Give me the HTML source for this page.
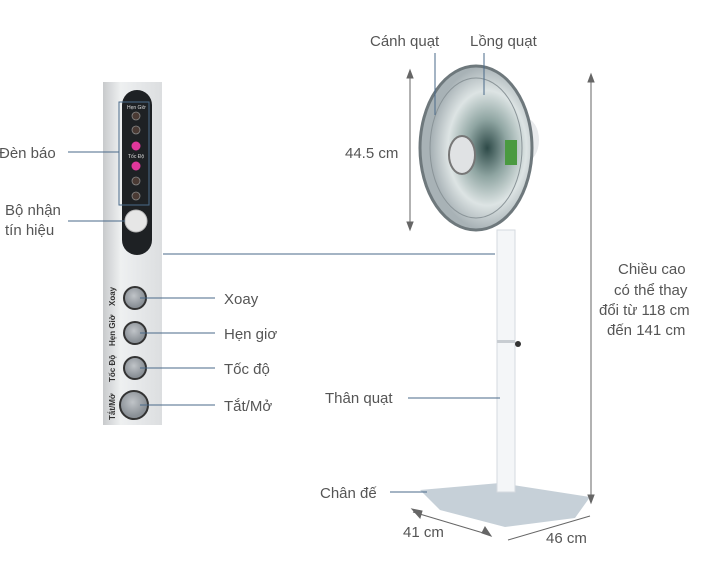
<!DOCTYPE html>
<html><head><meta charset="utf-8"><style>
body{margin:0;background:#fff;width:718px;height:583px;overflow:hidden}
text{font-family:"Liberation Sans",sans-serif;fill:#555;font-size:15px}
text.r{font-size:8px;font-weight:bold;fill:#333}
</style></head><body>
<svg width="718" height="583" viewBox="0 0 718 583" xmlns="http://www.w3.org/2000/svg">
<defs>
<linearGradient id="pg" x1="0" x2="1"><stop offset="0" stop-color="#c8cacc"/><stop offset="0.3" stop-color="#eef0f1"/><stop offset="1" stop-color="#dcdee0"/></linearGradient>
<radialGradient id="bt" cx="0.45" cy="0.4"><stop offset="0" stop-color="#c0c4c8"/><stop offset="1" stop-color="#8a9096"/></radialGradient>
<radialGradient id="fan" cx="0.6" cy="0.5"><stop offset="0" stop-color="#2e4a48"/><stop offset="0.35" stop-color="#8fa5a2"/><stop offset="0.7" stop-color="#dde4e4"/><stop offset="1" stop-color="#a8b2b6"/></radialGradient>
</defs>
<!-- panel -->
<rect x="103" y="82" width="59" height="343" fill="url(#pg)"/>
<rect x="122" y="90" width="30" height="165" rx="15" fill="#1e2124"/>
<rect x="119" y="102" width="30" height="103" fill="none" stroke="#4a6a8a" stroke-width="1"/>
<text x="127" y="109" style="font-size:5px;fill:#ddd">Hẹn Giờ</text>
<circle cx="136" cy="116" r="4" fill="#4a3a34" stroke="#888" stroke-width="0.8"/>
<circle cx="136" cy="130" r="4" fill="#4a3a34" stroke="#888" stroke-width="0.8"/>
<circle cx="136" cy="146" r="4.5" fill="#e0379b"/>
<text x="128" y="158" style="font-size:5px;fill:#ddd">Tốc Độ</text>
<circle cx="136" cy="166" r="4.5" fill="#e0379b"/>
<circle cx="136" cy="181" r="4" fill="#4a3a34" stroke="#888" stroke-width="0.8"/>
<circle cx="136" cy="196" r="4" fill="#4a3a34" stroke="#888" stroke-width="0.8"/>
<circle cx="136" cy="221" r="11" fill="#e6e6e6" stroke="#bbb"/>
<g fill="url(#bt)" stroke="#333" stroke-width="2">
<circle cx="135" cy="298" r="11"/><circle cx="135" cy="333" r="11"/><circle cx="135" cy="368" r="11"/><circle cx="134" cy="405" r="14"/>
</g>
<text class="r" transform="translate(115,306) rotate(-90)">Xoay</text>
<text class="r" transform="translate(115,346) rotate(-90)">Hẹn Giờ</text>
<text class="r" transform="translate(115,382) rotate(-90)">Tốc Độ</text>
<text class="r" transform="translate(115,420) rotate(-90)">Tắt/Mở</text>
<!-- fan -->
<polygon points="420,490 500,483 590,497 575,518 505,527 440,510" fill="#c6d0d8"/>
<rect x="497" y="230" width="18" height="262" fill="#f4f6f8" stroke="#d5dadf"/>
<rect x="497" y="340" width="18" height="3" fill="#c8cdd2"/>
<circle cx="518" cy="344" r="3" fill="#333"/>
<ellipse cx="525" cy="140" rx="14" ry="22" fill="#e8eaec"/>
<ellipse cx="476" cy="148" rx="56" ry="82" fill="url(#fan)" stroke="#6e787c" stroke-width="3"/>
<ellipse cx="476" cy="148" rx="46" ry="70" fill="none" stroke="#8a9498" stroke-width="1"/>
<ellipse cx="462" cy="155" rx="13" ry="19" fill="#e0e2e4" stroke="#777" stroke-width="2"/>
<rect x="505" y="140" width="12" height="25" fill="#4a9a40"/>
<!-- lines -->
<g stroke="#4a6a8a" stroke-width="1" fill="none">
<line x1="68" y1="152" x2="119" y2="152"/><line x1="68" y1="221" x2="125" y2="221"/>
<line x1="163" y1="254" x2="495" y2="254"/>
<line x1="140" y1="298" x2="215" y2="298"/><line x1="140" y1="333" x2="215" y2="333"/>
<line x1="140" y1="368" x2="215" y2="368"/><line x1="140" y1="405" x2="215" y2="405"/>
<line x1="408" y1="398" x2="500" y2="398"/><line x1="390" y1="492" x2="427" y2="492"/>
<line x1="435" y1="53" x2="435" y2="115"/><line x1="484" y1="53" x2="484" y2="95"/>
</g>
<g stroke="#666" stroke-width="1" fill="#666">
<line x1="410" y1="72" x2="410" y2="228"/><path d="M407,78 L410,70 L413,78Z M407,222 L410,230 L413,222Z"/>
<line x1="591" y1="75" x2="591" y2="502"/><path d="M588,82 L591,74 L594,82Z M588,495 L591,503 L594,495Z"/>
<line x1="413" y1="512" x2="490" y2="535"/><path d="M412,509 L420,518 L422,511Z"/><path d="M491,536 L482,533 L485,527Z"/>
<line x1="508" y1="540" x2="590" y2="516"/>
</g>
<text x="-1" y="158">Đèn báo</text>
<text x="5" y="215">Bộ nhận</text><text x="5" y="235">tín hiệu</text>
<text x="224" y="304">Xoay</text><text x="224" y="339">Hẹn giơ</text>
<text x="224" y="374">Tốc độ</text><text x="224" y="411">Tắt/Mở</text>
<text x="325" y="403">Thân quạt</text><text x="320" y="498">Chân đế</text>
<text x="370" y="46">Cánh quạt</text><text x="470" y="46">Lồng quạt</text>
<text x="345" y="158">44.5 cm</text>
<text x="403" y="537">41 cm</text><text x="546" y="543">46 cm</text>
<text x="618" y="274">Chiều cao</text><text x="614" y="295">có thể thay</text>
<text x="599" y="315">đổi từ 118 cm</text><text x="607" y="335">đến 141 cm</text>
</svg>
</body></html>
